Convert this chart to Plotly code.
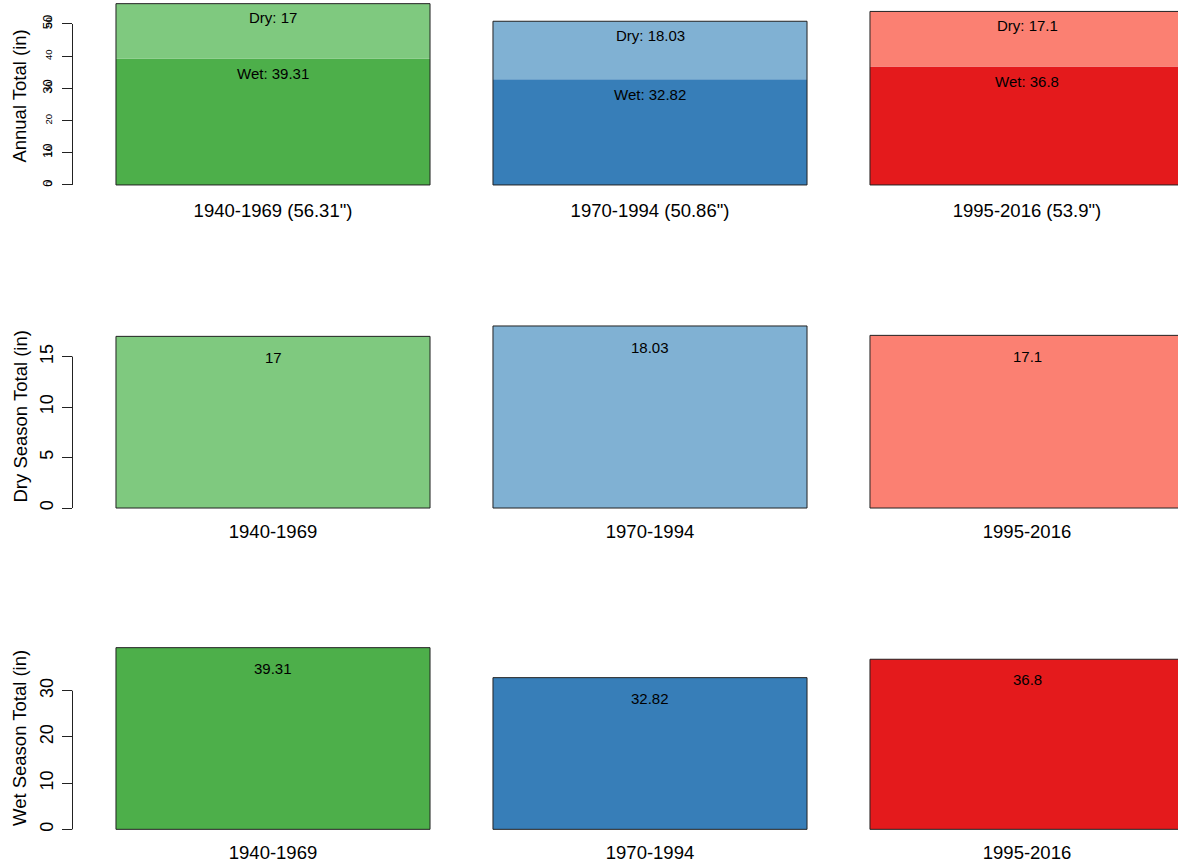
import plotly.graph_objects as go

# ---- data ----
periods = ["1940-1969", "1970-1994", "1995-2016"]
dry = [17, 18.03, 17.1]
wet = [39.31, 32.82, 36.8]
annual = [56.31, 50.86, 53.9]
dark_colors = ["#4DAF4A", "#377EB8", "#E41A1C"]
light_colors = ["#7FC97F", "#80B1D3", "#FB8072"]
annual_ticks = [0, 10, 20, 30, 40, 50]
annual_big_ticks = [0, 10, 30, 50]
dry_ticks = [0, 5, 10, 15]
wet_ticks = [0, 10, 20, 30]

W, H = 1178, 865
FONT = "Liberation Sans, Arial, sans-serif"
EDGE = "#222222"


def fx(p):
    return p / W


def fy(p):
    return 1 - p / H


top_labels = [f'{p} ({a}")' for p, a in zip(periods, annual)]
totals = [d + w for d, w in zip(dry, wet)]

# layout geometry (pixels)
AX_X = 72.5
BAR_W = 0.833
XR = [(AX_X - 273) / 377, (W - 273) / 377]
panels = [
    dict(top=0, bottom=192.2, rng=[-2.25, 57.45], xstand=5),
    dict(top=318.7, bottom=515.3, rng=[-0.72, 18.75], xstand=3),
    dict(top=640.4, bottom=836.6, rng=[-1.57, 40.88], xstand=3),
]

fig = go.Figure()

# panel 1: stacked annual
fig.add_trace(go.Bar(x=top_labels, y=wet, base=[0] * 3, width=BAR_W,
                     marker=dict(color=dark_colors, line=dict(width=0)),
                     xaxis="x", yaxis="y", hoverinfo="skip"))
fig.add_trace(go.Bar(x=top_labels, y=dry, base=wet, width=BAR_W,
                     marker=dict(color=light_colors, line=dict(width=0)),
                     xaxis="x", yaxis="y", hoverinfo="skip"))
fig.add_trace(go.Bar(x=top_labels, y=totals, width=BAR_W,
                     marker=dict(color="rgba(0,0,0,0)", line=dict(color=EDGE, width=1)),
                     xaxis="x", yaxis="y4", hoverinfo="skip"))
# panel 2: dry
fig.add_trace(go.Bar(x=periods, y=dry, width=BAR_W,
                     marker=dict(color=light_colors, line=dict(color=EDGE, width=1)),
                     xaxis="x2", yaxis="y2", hoverinfo="skip"))
# panel 3: wet
fig.add_trace(go.Bar(x=periods, y=wet, width=BAR_W,
                     marker=dict(color=dark_colors, line=dict(color=EDGE, width=1)),
                     xaxis="x3", yaxis="y3", hoverinfo="skip"))

xcommon = dict(type="category", range=XR, domain=[fx(AX_X), 1], showgrid=False,
               zeroline=False, showline=False, ticks="",
               tickfont=dict(size=18.5, color="black", family=FONT))
ycommon = dict(showgrid=False, zeroline=False, showline=False, ticks="outside",
               ticklen=9.5, tickcolor=EDGE, tickwidth=1, tickangle=-90)

layout = dict(
    width=W, height=H, autosize=False,
    margin=dict(l=0, r=0, t=0, b=0),
    paper_bgcolor="white", plot_bgcolor="white",
    barmode="overlay", showlegend=False,
    font=dict(family=FONT, color="black"),
)
for i, (p, cats) in enumerate(zip(panels, [top_labels, periods, periods])):
    suf = "" if i == 0 else str(i + 1)
    layout["xaxis" + suf] = dict(xcommon, anchor="y" + suf, categoryorder="array",
                                 categoryarray=cats, ticklabelstandoff=p["xstand"])
layout["yaxis"] = dict(ycommon, anchor="x", range=panels[0]["rng"],
                       domain=[fy(panels[0]["bottom"]), fy(panels[0]["top"])],
                       tickvals=annual_ticks,
                       ticktext=[str(t) if t in annual_big_ticks else "" for t in annual_ticks],
                       ticklabelstandoff=5,
                       tickfont=dict(size=13, family=FONT, color="black"))
layout["yaxis4"] = dict(showgrid=False, zeroline=False, showline=False, ticks="",
                        tickangle=-90, overlaying="y", anchor="x", side="left",
                        range=panels[0]["rng"], tickvals=annual_ticks,
                        ticktext=[str(t) for t in annual_ticks],
                        ticklabelstandoff=18,
                        tickfont=dict(size=9.5, family=FONT, color="black"))
layout["yaxis2"] = dict(ycommon, anchor="x2", range=panels[1]["rng"],
                        domain=[fy(panels[1]["bottom"]), fy(panels[1]["top"])],
                        tickvals=dry_ticks, ticklabelstandoff=2,
                        tickfont=dict(size=18, family=FONT, color="black"))
layout["yaxis3"] = dict(ycommon, anchor="x3", range=panels[2]["rng"],
                        domain=[fy(panels[2]["bottom"]), fy(panels[2]["top"])],
                        tickvals=wet_ticks, ticklabelstandoff=2,
                        tickfont=dict(size=18, family=FONT, color="black"))
fig.update_layout(**layout)

# axis lines spanning first..last tick (R style)
for yref, ticks in [("y", annual_ticks), ("y2", dry_ticks), ("y3", wet_ticks)]:
    fig.add_shape(type="line", xref="paper", yref=yref, x0=fx(AX_X), x1=fx(AX_X),
                  y0=ticks[0], y1=ticks[-1], line=dict(color=EDGE, width=1))

ann_font = dict(size=15, family=FONT, color="black")
for i in range(3):
    fig.add_annotation(x=top_labels[i], y=totals[i], xref="x", yref="y",
                       text=f"Dry: {dry[i]}", showarrow=False, yanchor="middle",
                       yshift=-14, font=ann_font)
    fig.add_annotation(x=top_labels[i], y=wet[i], xref="x", yref="y",
                       text=f"Wet: {wet[i]}", showarrow=False, yanchor="middle",
                       yshift=-15, font=ann_font)
    fig.add_annotation(x=periods[i], y=dry[i], xref="x2", yref="y2",
                       text=f"{dry[i]}", showarrow=False, yanchor="middle",
                       yshift=-21.5, font=ann_font)
    fig.add_annotation(x=periods[i], y=wet[i], xref="x3", yref="y3",
                       text=f"{wet[i]}", showarrow=False, yanchor="middle",
                       yshift=-20.5, font=ann_font)

titles = ["Annual Total (in)", "Dry Season Total (in)", "Wet Season Total (in)"]
for p, t in zip(panels, titles):
    fig.add_annotation(x=fx(19.5), y=fy((p["top"] + p["bottom"]) / 2), xref="paper",
                       yref="paper", text=t, textangle=-90, showarrow=False,
                       xanchor="center", yanchor="middle",
                       font=dict(size=18.5, family=FONT, color="black"))

fig.write_html("out.html",
               config={"displayModeBar": False},
               post_script="document.body.style.margin='0';"
                           "document.body.style.overflow='hidden';")
